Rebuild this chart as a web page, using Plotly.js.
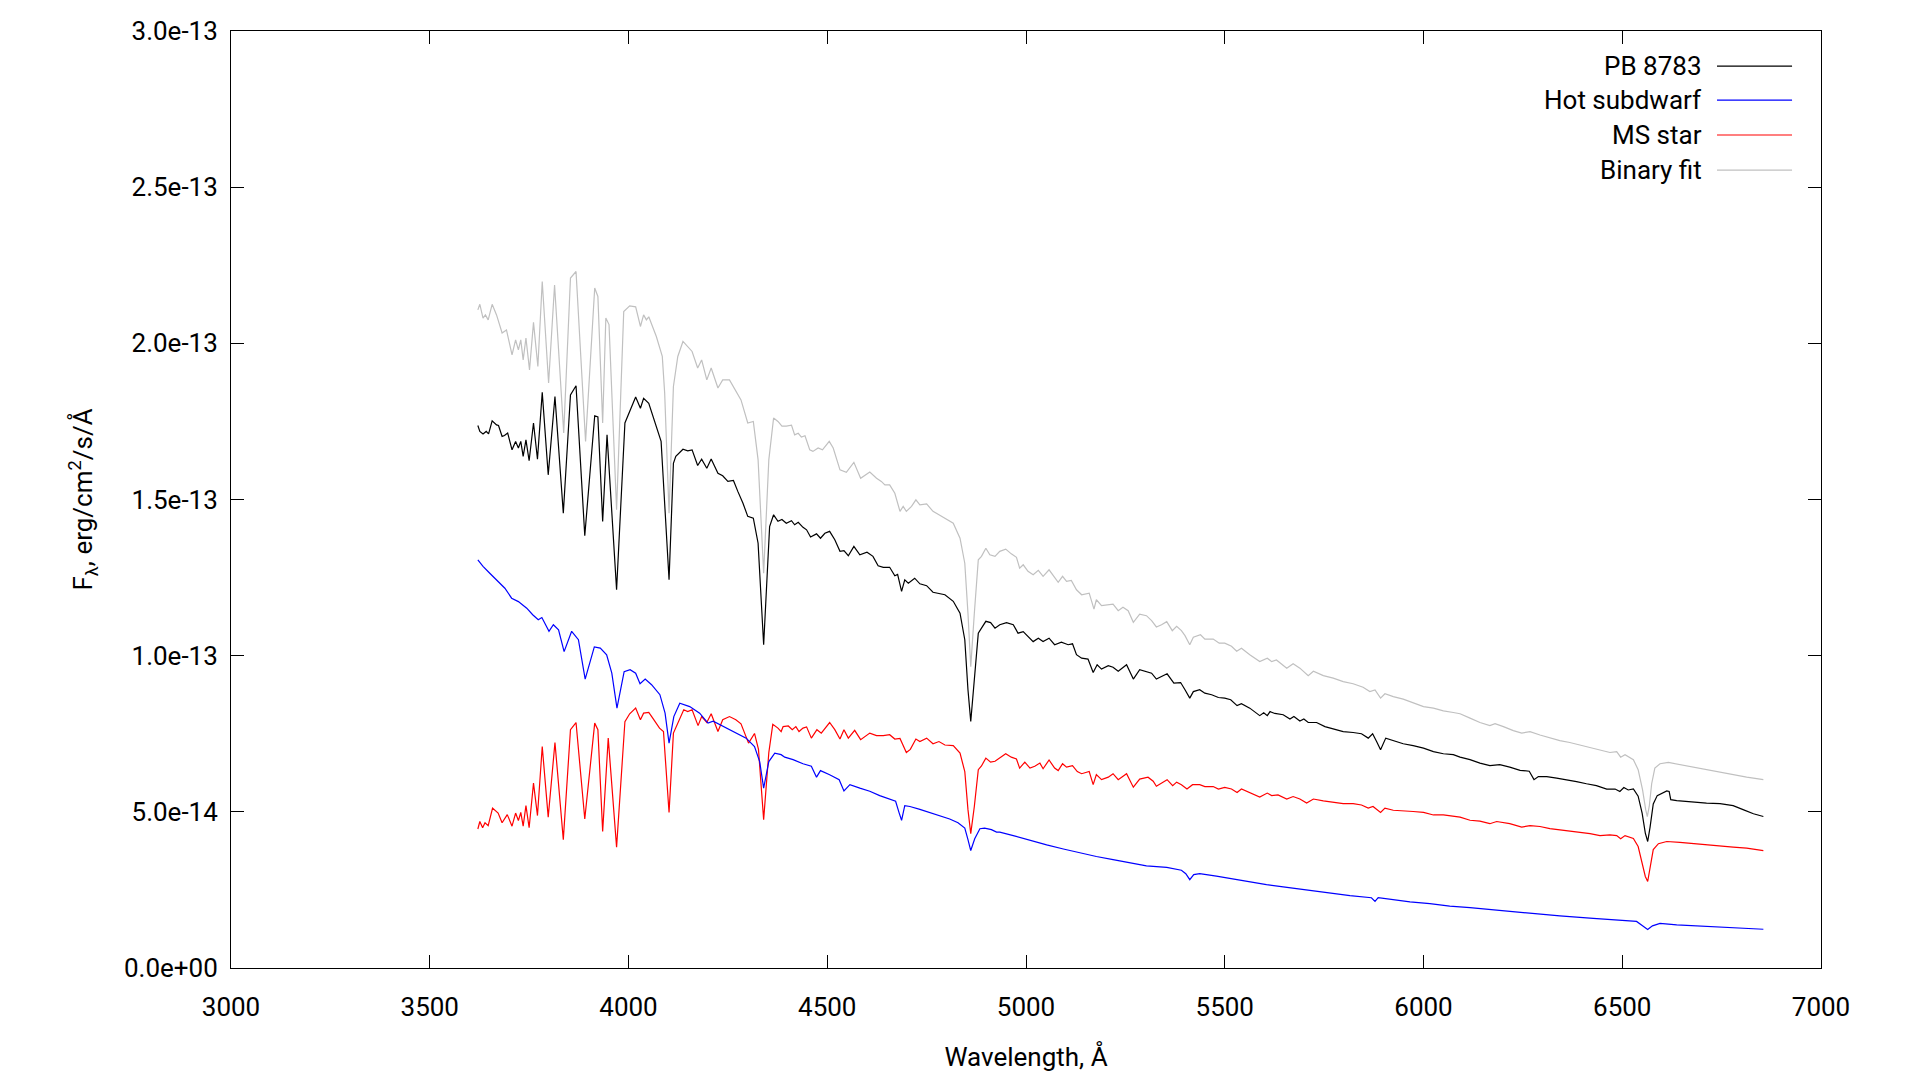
<!DOCTYPE html>
<html>
<head>
<meta charset="utf-8">
<script src="https://cdn.plot.ly/plotly-3.0.1.min.js"></script>
<style>
  html, body { margin: 0; padding: 0; background: #fff; }
  #graph { width: 1920px; height: 1080px; }
</style>
</head>
<body>
<div id="graph"></div>
<script>
// fluxes in units of 1e-13 erg/cm2/s/A
const obsWave = [3621,3626,3634,3642,3648,3657,3668,3673,3682,3688,3696,3707,3716,3723,3729,3735,3742,3750,3761,3771,3783,3798,3815,3836,3854,3868,3890,3915,3923,3935,3946,3970,3991,4003,4018,4030,4038,4051,4061,4082,4102,4113,4119,4137,4149,4160,4174,4184,4197,4208,4225,4237,4250,4264,4275,4288,4300,4314,4326,4340,4355,4365,4376,4386,4397,4410,4418,4427,4439,4448,4458,4464,4473,4483,4494,4506,4519,4532,4542,4553,4567,4582,4600,4615,4628,4641,4657,4670,4677,4687,4695,4704,4720,4733,4750,4766,4781,4796,4817,4834,4846,4854,4861,4870,4880,4888,4899,4911,4922,4934,4951,4968,4980,4993,5005,5018,5031,5043,5058,5072,5089,5106,5117,5127,5140,5156,5169,5179,5190,5207,5219,5232,5253,5270,5286,5303,5316,5328,5341,5355,5372,5389,5400,5412,5421,5437,5450,5467,5484,5500,5515,5531,5542,5563,5588,5598,5607,5614,5626,5647,5664,5674,5689,5699,5710,5731,5752,5773,5798,5823,5844,5861,5872,5882,5892,5905,5924,5949,5974,6000,6025,6050,6075,6092,6117,6142,6167,6192,6217,6243,6266,6278,6289,6310,6335,6360,6385,6410,6435,6461,6482,6494,6504,6515,6528,6540,6550,6558,6564,6570,6578,6588,6599,6612,6618,6622,6637,6662,6687,6712,6746,6779,6804,6830,6855]
const obsFlux = [1.737,1.718,1.710,1.718,1.710,1.752,1.739,1.737,1.702,1.705,1.713,1.659,1.686,1.665,1.686,1.638,1.691,1.624,1.745,1.629,1.843,1.579,1.830,1.456,1.835,1.864,1.384,1.768,1.764,1.430,1.707,1.211,1.745,1.782,1.828,1.792,1.824,1.808,1.771,1.686,1.243,1.616,1.638,1.661,1.656,1.659,1.609,1.629,1.600,1.630,1.584,1.576,1.558,1.561,1.526,1.488,1.446,1.440,1.360,1.035,1.413,1.451,1.430,1.436,1.424,1.432,1.419,1.427,1.411,1.403,1.380,1.384,1.390,1.376,1.392,1.398,1.371,1.334,1.336,1.320,1.350,1.323,1.331,1.318,1.288,1.283,1.283,1.256,1.260,1.206,1.243,1.232,1.248,1.230,1.224,1.203,1.200,1.195,1.174,1.136,1.051,0.891,0.789,0.934,1.072,1.088,1.110,1.106,1.088,1.099,1.106,1.099,1.072,1.077,1.061,1.045,1.056,1.045,1.056,1.035,1.043,1.035,1.038,1.003,0.992,0.989,0.946,0.971,0.957,0.968,0.963,0.950,0.971,0.925,0.955,0.950,0.944,0.925,0.934,0.942,0.912,0.914,0.891,0.864,0.885,0.891,0.880,0.875,0.866,0.864,0.859,0.840,0.846,0.832,0.808,0.817,0.808,0.821,0.815,0.811,0.797,0.805,0.791,0.797,0.786,0.786,0.773,0.765,0.757,0.754,0.750,0.736,0.750,0.725,0.699,0.736,0.729,0.718,0.712,0.704,0.693,0.686,0.683,0.675,0.667,0.656,0.648,0.651,0.643,0.633,0.630,0.603,0.613,0.613,0.608,0.603,0.597,0.590,0.584,0.573,0.573,0.565,0.578,0.570,0.573,0.550,0.496,0.432,0.405,0.451,0.525,0.552,0.560,0.567,0.565,0.539,0.536,0.533,0.531,0.528,0.526,0.520,0.507,0.494,0.485]

const sdWave = [3621,3634,3651,3668,3689,3706,3723,3744,3759,3773,3782,3800,3811,3824,3838,3857,3874,3891,3914,3929,3945,3958,3971,3989,4004,4018,4029,4042,4058,4079,4092,4102,4114,4129,4154,4179,4200,4213,4238,4271,4296,4317,4330,4340,4353,4368,4384,4393,4414,4439,4460,4473,4483,4506,4530,4542,4557,4582,4607,4632,4657,4672,4681,4687,4695,4708,4733,4758,4783,4808,4829,4846,4854,4861,4871,4884,4896,4913,4926,4934,4968,5010,5052,5094,5135,5177,5219,5261,5303,5354,5391,5402,5412,5422,5437,5479,5521,5563,5605,5647,5689,5731,5773,5815,5869,5878,5886,5915,5966,6016,6066,6117,6175,6259,6343,6427,6511,6536,6551,6564,6576,6595,6637,6721,6804,6855]
const sdFlux = [1.307,1.286,1.264,1.243,1.216,1.184,1.173,1.152,1.131,1.115,1.122,1.078,1.099,1.083,1.013,1.078,1.051,0.925,1.028,1.024,1.003,0.944,0.832,0.949,0.955,0.944,0.910,0.925,0.907,0.875,0.816,0.720,0.805,0.848,0.837,0.816,0.784,0.790,0.774,0.752,0.736,0.709,0.661,0.576,0.661,0.688,0.683,0.675,0.667,0.654,0.646,0.611,0.632,0.619,0.603,0.567,0.587,0.576,0.566,0.552,0.541,0.534,0.496,0.473,0.520,0.517,0.508,0.498,0.487,0.477,0.465,0.448,0.411,0.376,0.414,0.446,0.448,0.443,0.435,0.435,0.424,0.408,0.394,0.381,0.368,0.357,0.347,0.336,0.327,0.322,0.313,0.302,0.283,0.299,0.302,0.294,0.285,0.274,0.267,0.260,0.253,0.246,0.238,0.232,0.225,0.213,0.225,0.220,0.212,0.206,0.198,0.193,0.186,0.175,0.167,0.159,0.152,0.149,0.135,0.123,0.135,0.143,0.138,0.133,0.128,0.124]

const msWave = [3621,3626,3633,3639,3647,3658,3672,3682,3695,3707,3716,3723,3729,3735,3742,3750,3761,3771,3783,3798,3815,3836,3854,3868,3890,3915,3923,3935,3949,3970,3991,4003,4018,4030,4038,4051,4061,4078,4088,4102,4113,4129,4139,4149,4160,4175,4184,4197,4208,4225,4237,4254,4270,4283,4302,4317,4327,4340,4353,4363,4376,4384,4389,4402,4412,4421,4429,4439,4448,4460,4474,4485,4506,4519,4532,4542,4553,4569,4584,4607,4624,4641,4657,4670,4683,4699,4709,4723,4733,4750,4766,4781,4796,4817,4834,4846,4854,4861,4870,4880,4888,4899,4911,4922,4934,4949,4963,4976,4984,4997,5010,5022,5035,5043,5058,5072,5081,5092,5102,5117,5129,5140,5159,5169,5177,5190,5207,5219,5232,5253,5270,5286,5307,5320,5328,5341,5355,5369,5379,5391,5405,5419,5437,5450,5471,5484,5500,5517,5531,5542,5563,5588,5607,5618,5634,5656,5672,5689,5706,5723,5748,5773,5798,5823,5844,5861,5873,5892,5903,5924,5949,5974,6000,6025,6050,6075,6092,6117,6142,6167,6184,6217,6247,6268,6293,6318,6343,6368,6394,6419,6444,6469,6486,6496,6507,6528,6540,6551,6558,6564,6570,6578,6591,6612,6645,6679,6712,6746,6779,6813,6855]
const msFlux = [0.445,0.469,0.449,0.465,0.456,0.512,0.496,0.465,0.491,0.454,0.496,0.472,0.498,0.454,0.520,0.449,0.592,0.488,0.709,0.483,0.722,0.411,0.763,0.786,0.477,0.784,0.763,0.437,0.736,0.387,0.789,0.814,0.832,0.795,0.816,0.818,0.800,0.768,0.757,0.498,0.752,0.795,0.827,0.821,0.827,0.776,0.805,0.786,0.814,0.757,0.795,0.805,0.795,0.782,0.720,0.751,0.700,0.475,0.690,0.780,0.768,0.757,0.773,0.775,0.763,0.773,0.757,0.768,0.772,0.736,0.763,0.752,0.786,0.763,0.733,0.763,0.736,0.761,0.731,0.752,0.744,0.744,0.747,0.733,0.735,0.690,0.700,0.733,0.725,0.736,0.718,0.725,0.714,0.712,0.688,0.629,0.507,0.430,0.517,0.635,0.647,0.672,0.659,0.662,0.672,0.686,0.675,0.669,0.640,0.659,0.640,0.646,0.656,0.638,0.666,0.640,0.632,0.654,0.643,0.648,0.629,0.622,0.629,0.587,0.619,0.603,0.611,0.622,0.603,0.622,0.579,0.605,0.611,0.598,0.582,0.592,0.603,0.584,0.595,0.587,0.573,0.587,0.587,0.581,0.581,0.573,0.578,0.573,0.562,0.573,0.562,0.547,0.560,0.552,0.554,0.541,0.549,0.541,0.528,0.541,0.535,0.530,0.526,0.526,0.522,0.512,0.517,0.498,0.512,0.505,0.504,0.501,0.498,0.490,0.490,0.487,0.483,0.473,0.470,0.462,0.469,0.462,0.451,0.456,0.453,0.446,0.442,0.439,0.435,0.430,0.424,0.426,0.424,0.414,0.424,0.415,0.389,0.336,0.293,0.277,0.325,0.379,0.398,0.405,0.402,0.398,0.394,0.389,0.387,0.384,0.376]

const fitWave = [3621,3626,3634,3640,3647,3657,3668,3682,3693,3707,3716,3723,3729,3735,3742,3751,3761,3772,3783,3799,3814,3837,3854,3868,3892,3915,3923,3935,3943,3951,3970,3988,4003,4018,4030,4038,4045,4051,4070,4085,4091,4102,4113,4124,4137,4149,4160,4174,4184,4197,4208,4225,4237,4254,4270,4283,4300,4314,4326,4340,4353,4365,4376,4386,4397,4410,4418,4427,4435,4444,4456,4464,4477,4488,4505,4515,4532,4548,4567,4584,4607,4624,4636,4645,4657,4670,4683,4691,4699,4712,4723,4733,4750,4766,4781,4796,4817,4834,4846,4854,4861,4870,4880,4888,4899,4909,4922,4934,4949,4963,4976,4984,4993,5005,5018,5031,5043,5058,5072,5081,5092,5102,5114,5127,5140,5159,5171,5177,5190,5203,5219,5232,5244,5257,5270,5286,5303,5316,5328,5341,5354,5368,5379,5391,5400,5412,5421,5439,5450,5471,5486,5500,5517,5530,5542,5563,5588,5607,5618,5630,5656,5672,5689,5710,5723,5748,5773,5798,5823,5848,5865,5878,5892,5903,5924,5949,5974,6000,6025,6050,6075,6092,6117,6142,6167,6180,6201,6226,6247,6268,6293,6318,6343,6368,6394,6419,6444,6469,6486,6496,6507,6528,6540,6551,6559,6563,6568,6574,6582,6595,6616,6645,6679,6712,6746,6779,6813,6855]
const fitFlux = [2.107,2.125,2.081,2.091,2.075,2.125,2.091,2.033,2.043,1.963,2.011,1.979,2.011,1.947,2.017,1.915,2.067,1.926,2.198,1.873,2.187,1.713,2.209,2.230,1.686,2.177,2.150,1.745,2.081,2.060,1.467,2.102,2.120,2.117,2.054,2.091,2.075,2.085,2.022,1.958,1.841,1.456,1.862,1.958,2.006,1.990,1.974,1.921,1.947,1.883,1.921,1.857,1.883,1.883,1.846,1.819,1.745,1.750,1.627,1.264,1.627,1.761,1.750,1.735,1.735,1.738,1.707,1.712,1.700,1.704,1.659,1.654,1.665,1.659,1.686,1.665,1.595,1.587,1.619,1.568,1.588,1.568,1.558,1.547,1.547,1.520,1.462,1.478,1.462,1.478,1.499,1.483,1.486,1.462,1.451,1.440,1.424,1.376,1.296,1.136,0.965,1.136,1.307,1.318,1.344,1.323,1.318,1.334,1.341,1.326,1.315,1.280,1.291,1.270,1.259,1.273,1.254,1.275,1.249,1.235,1.254,1.238,1.241,1.211,1.195,1.200,1.149,1.179,1.160,1.163,1.165,1.144,1.155,1.144,1.107,1.133,1.128,1.112,1.092,1.099,1.109,1.080,1.094,1.080,1.064,1.035,1.059,1.067,1.053,1.053,1.040,1.040,1.030,1.014,1.024,1.003,0.981,0.992,0.981,0.986,0.960,0.974,0.960,0.936,0.950,0.936,0.928,0.917,0.910,0.899,0.885,0.890,0.864,0.878,0.869,0.861,0.850,0.837,0.832,0.823,0.818,0.814,0.800,0.786,0.776,0.782,0.773,0.760,0.752,0.757,0.746,0.736,0.728,0.722,0.714,0.707,0.698,0.690,0.693,0.675,0.683,0.667,0.635,0.571,0.507,0.485,0.518,0.590,0.640,0.654,0.658,0.651,0.643,0.635,0.627,0.619,0.611,0.603]

const seriesNames = ['PB 8783', 'Hot subdwarf', 'MS star', 'Binary fit']
const seriesColors = ['#000000', '#0000ff', '#ff0000', '#c0c0c0']

const yTickVals = [0, 0.5e-13, 1.0e-13, 1.5e-13, 2.0e-13, 2.5e-13, 3.0e-13]
const yTickText = ['0.0e+00', '5.0e-14', '1.0e-13', '1.5e-13', '2.0e-13', '2.5e-13', '3.0e-13']

const font = 'Roboto, "Noto Sans", sans-serif'

function toFlux(arr) {
  return arr.map(v => v * 1e-13)
}

const waves = [obsWave, sdWave, msWave, fitWave]
const fluxes = [obsFlux, sdFlux, msFlux, fitFlux]

// binary fit is drawn first so the observed spectrum sits on top
const order = [3, 2, 1, 0]
const traces = order.map(i => ({
  x: waves[i],
  y: toFlux(fluxes[i]),
  type: 'scatter',
  mode: 'lines',
  name: seriesNames[i],
  line: { color: seriesColors[i], width: 1.2 },
  showlegend: false,
  hoverinfo: 'skip'
}))

// gnuplot-style key: text on the left, sample line on the right
const keyRows = [0.9626, 0.9263, 0.8890, 0.8516]
const annotations = seriesNames.map((name, i) => ({
  xref: 'paper', yref: 'paper',
  x: 0.9262, y: keyRows[i],
  xanchor: 'right', yanchor: 'middle',
  text: name, showarrow: false,
  font: { family: font, size: 26, color: '#000' }
}))
const shapes = seriesNames.map((name, i) => ({
  type: 'line', xref: 'paper', yref: 'paper',
  x0: 0.9346, x1: 0.9818, y0: keyRows[i], y1: keyRows[i],
  line: { color: seriesColors[i], width: 1.2 }
}))

const axisCommon = {
  showline: true,
  linecolor: '#000',
  linewidth: 1,
  mirror: 'allticks',
  ticks: 'inside',
  ticklen: 13,
  tickwidth: 1,
  tickcolor: '#000',
  showgrid: false,
  zeroline: false,
  tickfont: { family: font, size: 26, color: '#000' }
}

const layout = {
  width: 1920,
  height: 1080,
  margin: { l: 231, r: 99, t: 31, b: 112 },
  paper_bgcolor: '#fff',
  plot_bgcolor: '#fff',
  font: { family: font, size: 26, color: '#000' },
  xaxis: Object.assign({}, axisCommon, {
    range: [3000, 7000],
    tickvals: [3000, 3500, 4000, 4500, 5000, 5500, 6000, 6500, 7000],
    ticklabelstandoff: 16,
    title: { text: 'Wavelength, Å', font: { family: font, size: 26 }, standoff: 26 }
  }),
  yaxis: Object.assign({}, axisCommon, {
    range: [0, 3e-13],
    tickvals: yTickVals,
    ticktext: yTickText,
    ticklabelstandoff: 7,
    title: { text: 'F<sub>λ</sub>, erg/cm<sup>2</sup>/s/Å', font: { family: font, size: 26 }, standoff: 23 }
  }),
  annotations: annotations,
  shapes: shapes
}

Plotly.newPlot('graph', traces, layout, { staticPlot: true, displayModeBar: false })
</script>
</body>
</html>
